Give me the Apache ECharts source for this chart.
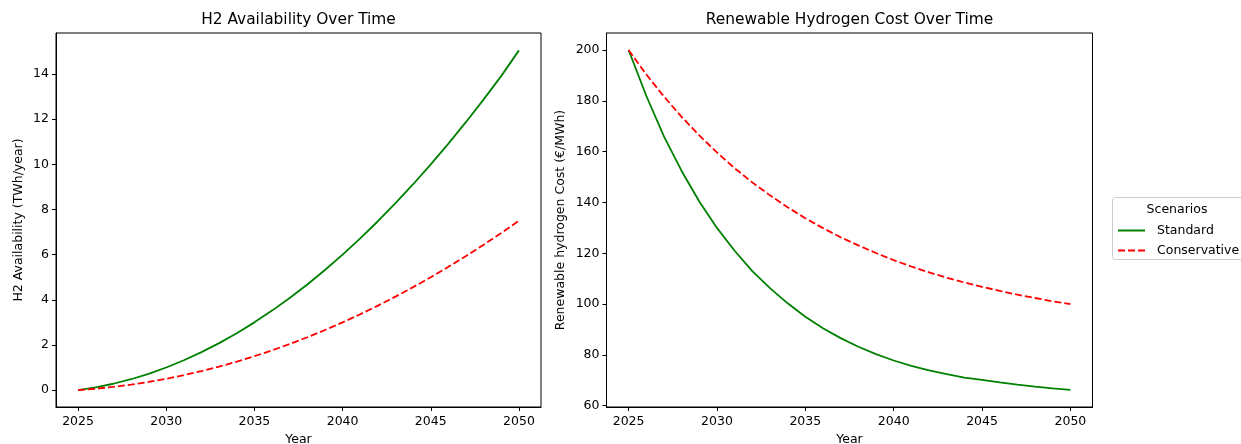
<!DOCTYPE html>
<html>
<head>
<meta charset="utf-8">
<script src="https://cdn.jsdelivr.net/npm/echarts@6/dist/echarts.min.js"></script>
<style>
  html, body { margin: 0; padding: 0; background: #fff; }
  #chart { width: 1241px; height: 444px; }
</style>
</head>
<body>
<div id="chart"></div>
<script>
// Years on the horizontal axis
const years = [2025, 2026, 2027, 2028, 2029, 2030, 2031, 2032, 2033, 2034, 2035, 2036, 2037,
               2038, 2039, 2040, 2041, 2042, 2043, 2044, 2045, 2046, 2047, 2048, 2049, 2050];

// H2 availability (TWh/year)
const availStandard = [0, 0.12, 0.28, 0.48, 0.72, 1.0, 1.32, 1.68, 2.08, 2.52, 3.0, 3.52, 4.08,
                       4.68, 5.32, 6.0, 6.72, 7.48, 8.28, 9.12, 10.0, 10.92, 11.88, 12.88, 13.92, 15.05];
const availConservative = [0, 0.06, 0.14, 0.24, 0.36, 0.5, 0.66, 0.84, 1.04, 1.26, 1.5, 1.76, 2.04,
                           2.34, 2.66, 3.0, 3.36, 3.74, 4.14, 4.56, 5.0, 5.46, 5.94, 6.44, 6.96, 7.5];

// Renewable hydrogen cost (€/MWh)
const costStandard = [200, 182, 166, 152.4, 140.4, 130, 121, 113, 106.3, 100.3, 95, 90.5, 86.6,
                      83.2, 80.3, 77.8, 75.7, 73.9, 72.4, 71.1, 70.2, 69.2, 68.3, 67.5, 66.8, 66.2];
const costConservative = [200, 190.4, 181.7, 173.7, 166.4, 159.7, 153.5, 147.9, 142.8, 138.1, 133.8,
                          129.9, 126.3, 123.1, 120.1, 117.3, 114.8, 112.5, 110.4, 108.5, 106.8,
                          105.2, 103.7, 102.4, 101.1, 100];

// Tick labels
const xTicks = [2025, 2030, 2035, 2040, 2045, 2050];
const availTicks = [0, 2, 4, 6, 8, 10, 12, 14];
const costTicks = [60, 80, 100, 120, 140, 160, 180, 200];

const scenarioNames = ['Standard', 'Conservative'];
const FONT = 'DejaVu Sans';
const FS = 12.5;
const GREEN = '#008000';
const RED = '#ff0000';

const pairs = (xs, ys) => xs.map((x, i) => [x, ys[i]]);

function xAxisFor(gridIndex) {
  return {
    type: 'value', gridIndex, min: 2023.75, max: 2051.25,
    name: 'Year', nameLocation: 'middle', nameGap: 25,
    nameTextStyle: { fontFamily: FONT, fontSize: FS, color: '#000' },
    axisLine: { show: true, onZero: false, lineStyle: { color: '#000', width: 1 } },
    axisTick: { show: true, inside: false, length: 4, customValues: xTicks, lineStyle: { color: '#000' } },
    axisLabel: { customValues: xTicks, margin: 8, fontFamily: FONT, fontSize: FS, color: '#000',
                 formatter: v => String(v) },
    splitLine: { show: false }
  };
}

function yAxisFor(gridIndex, min, max, ticks, name, gap) {
  return {
    type: 'value', gridIndex, min, max,
    name, nameLocation: 'middle', nameGap: gap, nameRotate: 90,
    nameTextStyle: { fontFamily: FONT, fontSize: FS, color: '#000' },
    axisLine: { show: true, onZero: false, lineStyle: { color: '#000', width: 1 } },
    axisTick: { show: true, inside: false, length: 4, customValues: ticks, lineStyle: { color: '#000' } },
    axisLabel: { customValues: ticks, margin: 7, fontFamily: FONT, fontSize: FS, color: '#000',
                 formatter: v => String(v) },
    splitLine: { show: false }
  };
}

function lineSeries(name, idx, data, color, dashed) {
  return {
    name, type: 'line', xAxisIndex: idx, yAxisIndex: idx, data,
    symbol: 'none', smooth: false, animation: false,
    lineStyle: { color, width: 1.8, type: dashed ? [7, 3] : 'solid' },
    itemStyle: { color }
  };
}

const chart = echarts.init(document.getElementById('chart'));
chart.setOption({
  animation: false,
  backgroundColor: '#fff',
  grid: [
    { left: 56, top: 33, width: 485, height: 374, outerBoundsMode: 'none', containLabel: false,
      show: true, borderColor: '#000', borderWidth: 1, backgroundColor: 'transparent' },
    { left: 606.5, top: 33, width: 486, height: 374, outerBoundsMode: 'none', containLabel: false,
      show: true, borderColor: '#000', borderWidth: 1, backgroundColor: 'transparent' }
  ],
  xAxis: [xAxisFor(0), xAxisFor(1)],
  yAxis: [
    yAxisFor(0, -0.75, 15.82, availTicks, 'H2 Availability (TWh/year)', 31),
    yAxisFor(1, 59.5, 206.7, costTicks, 'Renewable hydrogen Cost (€/MWh)', 39)
  ],
  legend: {
    data: scenarioNames,
    orient: 'vertical', left: 1112, top: 219,
    itemWidth: 27, itemHeight: 12, itemGap: 7,
    itemStyle: { opacity: 0 },
    textStyle: { fontFamily: FONT, fontSize: FS, color: '#000', padding: [0, 0, 0, 7] },
    selectedMode: false
  },
  graphic: [
    { type: 'text', x: 298.5, y: 20, style: { text: 'H2 Availability Over Time', font: '15.4px "DejaVu Sans"', fill: '#000', textAlign: 'center', textVerticalAlign: 'middle' } },
    { type: 'text', x: 849.5, y: 20, style: { text: 'Renewable Hydrogen Cost Over Time', font: '15.4px "DejaVu Sans"', fill: '#000', textAlign: 'center', textVerticalAlign: 'middle' } },
    { type: 'rect', shape: { x: 1112.5, y: 197.5, width: 140, height: 62, r: 3 }, style: { fill: '#fff', stroke: '#cccccc', lineWidth: 1 }, z: -1 },
    { type: 'text', x: 1177, y: 210, style: { text: 'Scenarios', font: '12.5px "DejaVu Sans"', fill: '#000', textAlign: 'center', textVerticalAlign: 'middle' } }
  ],
  series: [
    lineSeries('Standard', 0, pairs(years, availStandard), GREEN, false),
    lineSeries('Conservative', 0, pairs(years, availConservative), RED, true),
    lineSeries('Standard', 1, pairs(years, costStandard), GREEN, false),
    lineSeries('Conservative', 1, pairs(years, costConservative), RED, true)
  ]
});
</script>
</body>
</html>
